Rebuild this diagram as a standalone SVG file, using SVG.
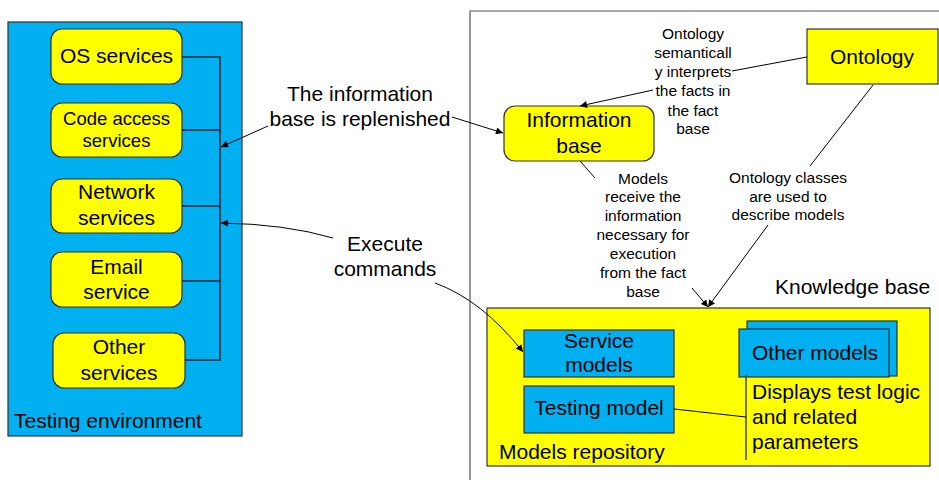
<svg xmlns="http://www.w3.org/2000/svg" width="939" height="480" viewBox="0 0 939 480">
<defs>
<marker id="ah" viewBox="0 0 10 10" refX="10" refY="5" markerWidth="9" markerHeight="7" markerUnits="userSpaceOnUse" orient="auto">
<path d="M0,0 L10,5 L0,10 Z" fill="#000"/>
</marker>
</defs>
<style>
text{font-family:"Liberation Sans",Arial,sans-serif;fill:#000}
.big{font-size:21px}
.mid{font-size:18.5px}
.sm{font-size:15.5px}
.c{text-anchor:middle}
.yel{fill:#FFFF00;stroke:#333;stroke-width:1.2}
.blu{fill:#00B0F0;stroke:#333;stroke-width:1.2}
.ln{fill:none;stroke:#000;stroke-width:1}
.bus{fill:none;stroke:#1a2533;stroke-width:1.5}
</style>
<rect width="939" height="480" fill="#fff"/>

<g id="testing-environment">
<rect x="8" y="22" width="234" height="414" class="blu"/>
<text x="14" y="427.5" class="big">Testing environment</text>
</g>

<g id="knowledge-base">
<path d="M470,480 V11 H939" fill="none" stroke="#555" stroke-width="1.2"/>
<text x="775" y="294" class="big">Knowledge base</text>
</g>

<g id="os-services">
<rect x="51" y="29" width="131" height="55" rx="11" class="yel"/>
<text x="116.5" y="63" class="big c">OS services</text>
</g>
<g id="code-access-services">
<rect x="51" y="103" width="131" height="54" rx="11" class="yel"/>
<text x="116.5" y="124.5" class="mid c">Code access</text>
<text x="116.5" y="146.5" class="mid c">services</text>
</g>
<g id="network-services">
<rect x="51" y="179" width="131" height="54" rx="11" class="yel"/>
<text x="116.5" y="199" class="big c">Network</text>
<text x="116.5" y="224.5" class="big c">services</text>
</g>
<g id="email-service">
<rect x="51" y="252" width="131" height="55" rx="11" class="yel"/>
<text x="116.5" y="273.5" class="big c">Email</text>
<text x="116.5" y="298.5" class="big c">service</text>
</g>
<g id="other-services">
<rect x="53" y="333" width="132" height="55" rx="11" class="yel"/>
<text x="119" y="353.5" class="big c">Other</text>
<text x="119" y="379.5" class="big c">services</text>
</g>

<g id="information-base">
<rect x="504" y="106" width="150" height="55" rx="11" class="yel"/>
<text x="579" y="126.5" class="big c">Information</text>
<text x="579" y="152.5" class="big c">base</text>
</g>
<g id="ontology">
<rect x="807" y="29" width="131" height="55" class="yel"/>
<text x="872" y="63.5" class="big c">Ontology</text>
</g>

<g id="models-repository">
<rect x="487" y="308" width="443" height="158" class="yel"/>
<text x="499" y="459" class="big">Models repository</text>
</g>
<g id="service-models">
<rect x="524" y="330" width="150" height="47" class="blu"/>
<text x="599" y="348" class="big c">Service</text>
<text x="599" y="372" class="big c">models</text>
</g>
<g id="testing-model">
<rect x="524" y="386" width="150" height="47" class="blu"/>
<text x="599" y="414.5" class="big c">Testing model</text>
</g>
<g id="other-models">
<rect x="747" y="321" width="150" height="55" class="blu"/>
<rect x="739" y="329" width="150" height="48" class="blu"/>
<text x="752" y="359.5" class="big">Other models</text>
</g>
<g id="displays-note">
<line x1="746" y1="375" x2="746" y2="460" stroke="#444" stroke-width="1.5"/>
<text x="752" y="398.5" class="big">Displays test logic</text>
<text x="752" y="423.5" class="big">and related</text>
<text x="752" y="448.5" class="big">parameters</text>
</g>

<g id="labels">
<text x="360" y="101" class="big c">The information</text>
<text x="360" y="126" class="big c">base is replenished</text>
<text x="385" y="250.5" class="big c">Execute</text>
<text x="385" y="276" class="big c">commands</text>
<text class="sm c"><tspan x="693" y="38.8">Ontology</tspan><tspan x="693" y="58">semanticall</tspan><tspan x="693" y="77.2">y interprets</tspan><tspan x="693" y="96.4">the facts in</tspan><tspan x="693" y="115.6">the fact</tspan><tspan x="693" y="134.2">base</tspan></text>
<text class="sm c"><tspan x="643" y="183.8">Models</tspan><tspan x="643" y="202.4">receive the</tspan><tspan x="643" y="221">information</tspan><tspan x="643" y="240.4">necessary for</tspan><tspan x="643" y="259.2">execution</tspan><tspan x="643" y="278.2">from the fact</tspan><tspan x="643" y="297.2">base</tspan></text>
<text class="sm c"><tspan x="788" y="182.5">Ontology classes</tspan><tspan x="788" y="201.5">are used to</tspan><tspan x="788" y="220">describe models</tspan></text>
</g>

<g id="connectors">
<path class="bus" d="M182,57 H220 V360 H185 M182,130 H220 M182,206 H220 M182,281 H220"/>
<path class="ln" d="M268,126 L221,147" marker-end="url(#ah)"/>
<path class="ln" d="M452,117 L503,133" marker-end="url(#ah)"/>
<path class="ln" d="M333,238 Q285,224 221,223" marker-end="url(#ah)"/>
<path class="ln" d="M435,283 Q482,300 523,352" marker-end="url(#ah)"/>
<path class="ln" d="M807,57 L732,71"/>
<path class="ln" d="M653,90 L580,106" marker-end="url(#ah)"/>
<path class="ln" d="M873,85 L810,166"/>
<path class="ln" d="M768,225 L708,307" marker-end="url(#ah)"/>
<path class="ln" d="M580,161 L595,178"/>
<path class="ln" d="M692,288 L708,307" marker-end="url(#ah)"/>
<path class="ln" d="M674,409 L746,417"/>
</g>
</svg>
